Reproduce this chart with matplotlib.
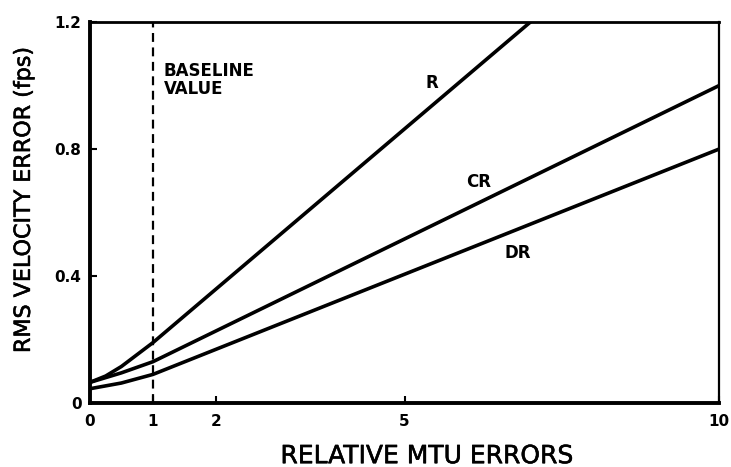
import matplotlib
matplotlib.use('Agg')
import matplotlib.pyplot as plt
import matplotlib.patheffects as pe

# curve data
r_x = [0, 0.25, 0.5, 1, 7]
r_y = [0.065, 0.085, 0.115, 0.19, 1.2]
cr_x = [0, 0.5, 1, 10]
cr_y = [0.065, 0.095, 0.13, 1.0]
dr_x = [0, 0.5, 1, 10]
dr_y = [0.045, 0.063, 0.09, 0.8]
baseline = 1

x_ticks = [0, 1, 2, 5, 10]
y_ticks = [0, 0.4, 0.8, 1.2]
y_ticklabels = ['0', '0.4', '0.8', '1.2']

plt.rcParams['font.family'] = ['DejaVu Sans']

fig = plt.figure(figsize=(7.31, 4.67), dpi=100)
ax = fig.add_axes([0.123, 0.137, 0.861, 0.816])

lw = 2.6
ax.plot(r_x, r_y, color='black', linewidth=lw, solid_capstyle='round')
ax.plot(cr_x, cr_y, color='black', linewidth=lw, solid_capstyle='round')
ax.plot(dr_x, dr_y, color='black', linewidth=lw, solid_capstyle='round')
ax.plot([baseline, baseline], [0, 1.2], color='black', linewidth=1.6, dashes=(4, 2.5))

ax.text(1.17, 1.075, 'BASELINE\nVALUE', fontsize=12, fontweight='bold', va='top', ha='left', linespacing=1.05)
ax.text(5.44, 1.008, 'R', fontsize=12, fontweight='bold', ha='center', va='center')
ax.text(6.17, 0.696, 'CR', fontsize=12, fontweight='bold', ha='center', va='center')
ax.text(6.8, 0.472, 'DR', fontsize=12, fontweight='bold', ha='center', va='center')

ax.set_xlim(0, 10)
ax.set_ylim(0, 1.2)
ax.set_xticks(x_ticks)
ax.set_yticks(y_ticks)
ax.set_yticklabels(y_ticklabels)
ax.tick_params(direction='in', length=5, width=1.5, labelsize=11, pad=6)
ax.tick_params(axis='x', pad=8)
for lab in ax.get_xticklabels() + ax.get_yticklabels():
    lab.set_fontweight('bold')

ax.spines['left'].set_linewidth(2.8)
ax.spines['bottom'].set_linewidth(2.8)
ax.spines['top'].set_linewidth(2.0)
ax.spines['right'].set_linewidth(1.6)

thick = [pe.withStroke(linewidth=0.4, foreground='black')]
ax.set_xlabel('RELATIVE MTU ERRORS', fontsize=18, path_effects=thick)
ax.set_ylabel('RMS VELOCITY ERROR (fps)', fontsize=16, path_effects=thick)
ax.xaxis.set_label_coords(0.536, -0.108)
ax.yaxis.set_label_coords(-0.089, 0.533)

fig.savefig('out.png', dpi=100)
